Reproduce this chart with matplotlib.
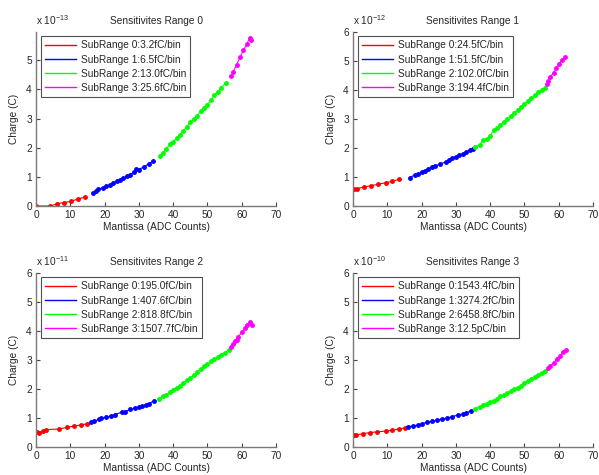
import matplotlib
matplotlib.use("Agg")
import matplotlib.pyplot as plt
from matplotlib.lines import Line2D

plt.rcParams['font.family'] = ['Liberation Sans', 'DejaVu Sans']
plt.rcParams['mathtext.fontset'] = 'custom'
plt.rcParams['mathtext.rm'] = 'Liberation Sans'
plt.rcParams['mathtext.it'] = 'Liberation Sans'

FS = 7.3

# ---------------- data (charge in units of the panel exponent) ----------------
titles = ["Sensitivites Range 0", "Sensitivites Range 1",
          "Sensitivites Range 2", "Sensitivites Range 3"]
exponents = [-13, -12, -11, -10]
labels = [
    ["SubRange 0:3.2fC/bin", "SubRange 1:6.5fC/bin", "SubRange 2:13.0fC/bin", "SubRange 3:25.6fC/bin"],
    ["SubRange 0:24.5fC/bin", "SubRange 1:51.5fC/bin", "SubRange 2:102.0fC/bin", "SubRange 3:194.4fC/bin"],
    ["SubRange 0:195.0fC/bin", "SubRange 1:407.6fC/bin", "SubRange 2:818.8fC/bin", "SubRange 3:1507.7fC/bin"],
    ["SubRange 0:1543.4fC/bin", "SubRange 1:3274.2fC/bin", "SubRange 2:6458.8fC/bin", "SubRange 3:12.5pC/bin"],
]
ylims = [5.97, 6, 6, 6]

# Range 0
r0_red_x = [0, 4.2, 6.2, 8.2, 10.2, 12.2, 14.2]
r0_red_y = [0, 0, 0.08, 0.12, 0.16, 0.24, 0.30]
r0_blue_x = [16.5, 17.5, 18, 19.5, 20.5, 21.5, 22.5, 23.5, 24.5, 25.5, 26.5, 27.5, 28.5, 29.2, 30, 31.5, 33, 34.2]
r0_blue_y = [0.45, 0.50, 0.58, 0.62, 0.68, 0.72, 0.80, 0.85, 0.90, 0.95, 1.02, 1.08, 1.15, 1.28, 1.25, 1.35, 1.45, 1.55]
r0_green_x = [36.2, 37, 38, 39, 40, 41, 42, 43, 44, 45, 46, 47, 48, 49, 50, 51, 52, 53, 54, 55.3]
r0_green_y = [1.72, 1.82, 1.95, 2.12, 2.20, 2.32, 2.45, 2.58, 2.72, 2.88, 2.98, 3.10, 3.25, 3.35, 3.48, 3.62, 3.80, 3.92, 4.05, 4.22]
r0_mag_x = [56.8, 57.5, 58.5, 59.5, 60.5, 61.5, 62.3, 62.8]
r0_mag_y = [4.45, 4.60, 4.85, 5.10, 5.35, 5.55, 5.78, 5.70]

# Range 1
r1_red_x = [0.3, 1.3, 3.3, 5.3, 7.3, 9.5, 11.5, 13.3]
r1_red_y = [0.58, 0.60, 0.66, 0.70, 0.75, 0.80, 0.85, 0.92]
r1_blue_x = [16.5, 18, 19, 20, 21, 22, 23, 24, 25.5, 27, 28, 29, 30, 31, 32, 33, 34, 35]
r1_blue_y = [0.98, 1.07, 1.12, 1.18, 1.22, 1.28, 1.35, 1.38, 1.45, 1.52, 1.60, 1.65, 1.70, 1.75, 1.80, 1.86, 1.92, 1.98]
r1_green_x = [35.5, 37, 38, 39, 40, 41, 42, 43, 44, 45, 46, 47, 48, 49, 50, 51, 52, 53, 54, 55, 56]
r1_green_y = [2.02, 2.12, 2.28, 2.30, 2.42, 2.62, 2.70, 2.80, 2.90, 3.00, 3.10, 3.22, 3.32, 3.42, 3.52, 3.62, 3.72, 3.82, 3.92, 4.00, 4.08]
r1_mag_x = [56.6, 57, 57.5, 58.5, 59.3, 60.2, 61, 61.8]
r1_mag_y = [4.20, 4.30, 4.45, 4.60, 4.75, 4.90, 5.05, 5.15]

# Range 2
r2_red_x = [0.3, 1, 2, 3, 6.8, 9, 11, 13, 15]
r2_red_y = [0.52, 0.50, 0.55, 0.60, 0.62, 0.68, 0.72, 0.76, 0.80]
r2_blue_x = [16, 17, 18.5, 19, 20.5, 22, 23, 25, 26, 27.5, 29, 30, 31, 32, 33, 34.5]
r2_blue_y = [0.85, 0.90, 0.95, 1.00, 1.02, 1.08, 1.12, 1.20, 1.22, 1.30, 1.35, 1.38, 1.42, 1.45, 1.50, 1.60]
r2_green_x = [36, 37, 38, 39, 40, 41, 42, 43, 44, 45, 46, 47, 48, 49, 50, 51, 52, 53, 54, 55, 56.3]
r2_green_y = [1.65, 1.75, 1.80, 1.90, 1.98, 2.05, 2.12, 2.20, 2.30, 2.38, 2.48, 2.58, 2.68, 2.78, 2.85, 2.95, 3.02, 3.10, 3.18, 3.25, 3.35]
r2_mag_x = [56.8, 57.5, 58, 58.5, 59, 60, 61, 61.5, 62.5, 63]
r2_mag_y = [3.45, 3.55, 3.65, 3.70, 3.80, 3.95, 4.12, 4.20, 4.30, 4.20]

# Range 3
r3_red_x = [0.3, 1, 3, 5, 7, 9.5, 11.5, 13.5, 15.2]
r3_red_y = [0.42, 0.42, 0.46, 0.50, 0.52, 0.55, 0.58, 0.62, 0.66]
r3_blue_x = [16, 17.5, 19, 20, 21.5, 23, 24.5, 26, 27.5, 29, 30.5, 32, 33, 34.5]
r3_blue_y = [0.70, 0.72, 0.76, 0.80, 0.85, 0.88, 0.92, 0.96, 1.00, 1.05, 1.10, 1.13, 1.18, 1.25]
r3_green_x = [35.5, 37, 38, 39, 40, 41, 42, 43, 44, 45, 46, 47, 48, 49, 50, 51, 52, 53, 54, 55, 56]
r3_green_y = [1.32, 1.38, 1.45, 1.50, 1.55, 1.60, 1.65, 1.75, 1.80, 1.85, 1.92, 2.00, 2.05, 2.12, 2.20, 2.28, 2.35, 2.42, 2.50, 2.55, 2.62]
r3_mag_x = [56.8, 57.5, 58.5, 59.5, 60.5, 61.2, 62]
r3_mag_y = [2.72, 2.80, 2.90, 3.05, 3.15, 3.28, 3.35]

panels = [
    [(r0_red_x, r0_red_y), (r0_blue_x, r0_blue_y), (r0_green_x, r0_green_y), (r0_mag_x, r0_mag_y)],
    [(r1_red_x, r1_red_y), (r1_blue_x, r1_blue_y), (r1_green_x, r1_green_y), (r1_mag_x, r1_mag_y)],
    [(r2_red_x, r2_red_y), (r2_blue_x, r2_blue_y), (r2_green_x, r2_green_y), (r2_mag_x, r2_mag_y)],
    [(r3_red_x, r3_red_y), (r3_blue_x, r3_blue_y), (r3_green_x, r3_green_y), (r3_mag_x, r3_mag_y)],
]
colors = ["#ff0000", "#0000ff", "#00ff00", "#ff00ff"]

W, H = 599, 475
fig = plt.figure(figsize=(W / 100, H / 100), dpi=100)

# axes boxes in pixels: (left, top, right, bottom)
boxes = [(36, 32, 276, 206), (353, 32, 593, 206), (36, 273, 276, 447), (353, 273, 593, 447)]
txt = '#262626'
axc = '#7a7a7a'

for i, (l, t, r, b) in enumerate(boxes):
    ax = fig.add_axes([l / W, 1 - b / H, (r - l) / W, (b - t) / H])
    for (xs, ys), c in zip(panels[i], colors):
        ax.plot(xs, ys, color=c, lw=0.8, marker='.', ms=5)
    ax.set_xlim(0, 70)
    ax.set_ylim(0, ylims[i])
    ax.set_xticks(range(0, 71, 10))
    ax.set_yticks(range(0, 7) if ylims[i] >= 6 else range(0, 6))
    ax.tick_params(direction='in', length=3, width=0.8, labelsize=FS, pad=3,
                   color='#444444', labelcolor=txt)
    for s in ['top', 'right']:
        ax.spines[s].set_visible(False)
    for s in ['left', 'bottom']:
        ax.spines[s].set_linewidth(1.0)
        ax.spines[s].set_color(axc)
    ax.set_title(titles[i], fontsize=FS, pad=6, color=txt)
    ax.set_xlabel("Mantissa (ADC Counts)", fontsize=FS, labelpad=1, color=txt)
    ax.set_ylabel("Charge (C)", fontsize=FS, labelpad=5, color=txt)
    ax.text(0.0, 1.03, r"x 10$^{%d}$" % exponents[i], transform=ax.transAxes,
            fontsize=FS, ha='left', va='bottom', color=txt)
    handles = [Line2D([0], [0], color=c, lw=1.0) for c in colors]
    leg = ax.legend(handles, labels[i], loc='upper left', bbox_to_anchor=(0.021, 0.977),
                    fontsize=FS, frameon=True, fancybox=False, edgecolor='#262626',
                    handlelength=3.0, handletextpad=0.5, labelspacing=0.42,
                    borderpad=0.42, borderaxespad=0.0, labelcolor=txt)
    leg.get_frame().set_linewidth(0.8)

fig.savefig("out.png", dpi=100)
